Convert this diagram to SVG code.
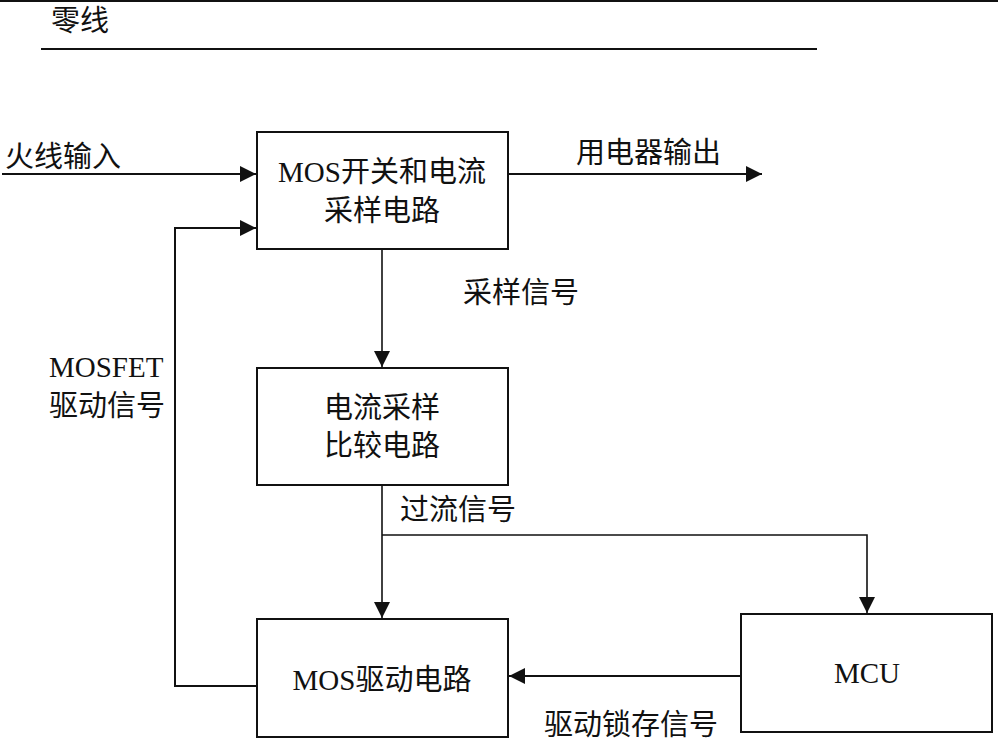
<svg xmlns="http://www.w3.org/2000/svg" width="998" height="746" viewBox="0 0 998 746">
<style>
text{font-family:"Liberation Serif","Noto Sans CJK SC",serif;font-size:29px;fill:#111}
.c{text-anchor:middle}
.box{fill:#fff;stroke:#111;stroke-width:2}
.ln{fill:none;stroke:#111;stroke-width:2}
.th{fill:none;stroke:#111;stroke-width:1.6}
</style>
<defs>
<marker id="ah" markerUnits="userSpaceOnUse" markerWidth="16" markerHeight="16" refX="16" refY="8" orient="auto" viewBox="0 0 16 16">
<path d="M0,0 L16,8 L0,16 z" fill="#111"/>
</marker>
</defs>
<rect width="998" height="746" fill="#fff"/>
<line x1="0" y1="1" x2="998" y2="1" stroke="#111" stroke-width="2"/>
<g id="neutral">
<line x1="41" y1="49" x2="817" y2="49" stroke="#111" stroke-width="2"/>
<text x="51" y="31">零线</text>
</g>
<g id="connectors">
<line class="ln" x1="2" y1="174" x2="256" y2="174" marker-end="url(#ah)"/>
<line class="ln" x1="508" y1="174" x2="762" y2="174" marker-end="url(#ah)"/>
<line class="th" x1="382" y1="249" x2="382" y2="367" marker-end="url(#ah)"/>
<line class="th" x1="382" y1="485" x2="382" y2="618" marker-end="url(#ah)"/>
<polyline class="th" points="382,535 867,535 867,613" marker-end="url(#ah)"/>
<line class="ln" x1="741" y1="676" x2="509" y2="676" marker-end="url(#ah)"/>
<polyline class="ln" points="257,686 175,686 175,228 256,228" marker-end="url(#ah)"/>
</g>
<g id="labels">
<text x="5" y="167">火线输入</text>
<text x="576" y="163">用电器输出</text>
<text x="463" y="303">采样信号</text>
<text x="49" y="377">MOSFET</text>
<text x="49" y="416">驱动信号</text>
<text x="400" y="520">过流信号</text>
<text x="544" y="735">驱动锁存信号</text>
</g>
<g id="mos-switch">
<rect class="box" x="257" y="132" width="251" height="117"/>
<text class="c" x="382" y="182">MOS开关和电流</text>
<text class="c" x="382" y="221">采样电路</text>
</g>
<g id="comparator">
<rect class="box" x="257" y="368" width="251" height="117"/>
<text class="c" x="382" y="418">电流采样</text>
<text class="c" x="382" y="456">比较电路</text>
</g>
<g id="mos-driver">
<rect class="box" x="257" y="619" width="251" height="118"/>
<text class="c" x="382" y="690">MOS驱动电路</text>
</g>
<g id="mcu">
<rect class="box" x="741" y="614" width="251" height="118"/>
<text class="c" x="867" y="683">MCU</text>
</g>
</svg>
